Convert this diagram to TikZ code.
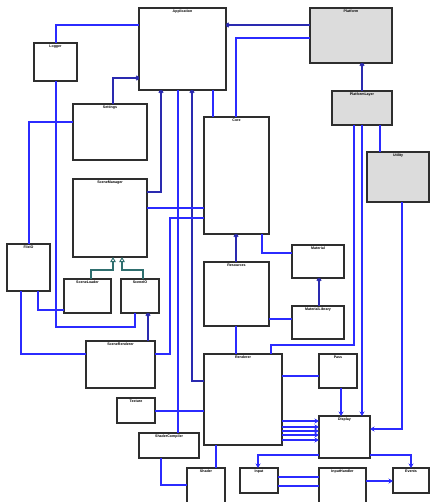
\documentclass[tikz,border=0pt]{standalone}
\usepackage{fontspec}
\setmainfont{Liberation Sans}
\usetikzlibrary{arrows.meta,calc}
\definecolor{lnblue}{HTML}{2B2BFF}
\definecolor{lndark}{HTML}{2A2AB0}
\definecolor{lnteal}{HTML}{2F6F6F}
\definecolor{boxgray}{HTML}{DCDCDC}
\definecolor{boxline}{HTML}{2E2E2E}
\tikzset{
  box/.style={draw=boxline,line width=1.3pt,fill=white,anchor=north west,inner sep=0pt,outer sep=0pt},
  gbox/.style={box,fill=boxgray},
  ttl/.style={font=\fontsize{3.6}{3.6}\selectfont\bfseries,inner sep=1.8pt},
  wire/.style={draw=lnblue,line width=1.2pt},
  dwire/.style={draw=lndark,line width=1.2pt},
  usesend/.style={dwire,-{Arc Barb[length=3pt,width=5pt,line width=1.1pt]}},
  flow/.style={wire,-{Stealth[length=4.5pt,width=5pt]}},
  gen/.style={draw=lnteal,line width=1.1pt,-{Triangle[open,length=5pt,width=5.5pt,fill=white,line width=0.9pt]}}
}
\newcommand\mkbox[7][box]{\node[#1,minimum width=#4pt,minimum height=#5pt,label={[ttl,anchor=north]north:#7}] (#6) at (#2,#3) {};}
\begin{document}
\begin{tikzpicture}[x=1pt,y=-1pt]
\useasboundingbox (0,0) rectangle (430,502);
\clip (0,0) rectangle (430,502);
\fill[white] (0,0) rectangle (430,502);
% boxes
\mkbox{139}{8}{87}{82}{A}{Application}
\mkbox{34}{43}{43}{38}{B}{Logger}
\mkbox{73}{104}{74}{56}{C}{Settings}
\mkbox{204}{117}{65}{117}{D}{Core}
\mkbox[gbox]{310}{8}{82}{55}{E}{Platform}
\mkbox[gbox]{332}{91}{60}{34}{F}{PlatformLayer}
\mkbox[gbox]{367}{152}{62}{50}{G}{Utility}
\mkbox{73}{179}{74}{78}{H}{SceneManager}
\mkbox{7}{244}{43}{47}{I}{FileIO}
\mkbox{64}{279}{47}{34}{J}{SceneLoader}
\mkbox{121}{279}{38}{34}{K}{SceneIO}
\mkbox{204}{262}{65}{64}{L}{Resources}
\mkbox{292}{245}{52}{33}{M}{Material}
\mkbox{292}{306}{52}{33}{N}{MaterialLibrary}
\mkbox{86}{341}{69}{47}{O}{SceneRenderer}
\mkbox{117}{398}{38}{25}{P}{Texture}
\mkbox{139}{433}{60}{25}{Q}{ShaderCompiler}
\mkbox{187}{468}{38}{40}{R}{Shader}
\mkbox{204}{354}{78}{91}{S}{Renderer}
\mkbox{319}{354}{38}{34}{T}{Pass}
\mkbox{319}{416}{51}{42}{U}{Display}
\mkbox{240}{468}{38}{25}{V}{Input}
\mkbox{319}{468}{47}{40}{W}{InputHandler}
\mkbox{393}{468}{36}{25}{X}{Events}
% connectors
\draw[wire] ([shift={(22,0)}]B.north west) |- ([shift={(0,17)}]A.north west);
\draw[wire] ([shift={(22,38)}]B.north west) -- ++(0,246) -| ([shift={(14,34)}]K.north west);
\draw[usesend] ([shift={(40,0)}]C.north west) |- ([shift={(0,70)}]A.north west);
\draw[wire] ([shift={(0,18)}]C.north west) -| ([shift={(22,0)}]I.north west);
\draw[usesend] ([shift={(74,13)}]H.north west) -| ([shift={(22,82)}]A.north west);
\draw[wire] ([shift={(39,82)}]A.north west) -- ([shift={(39,0)}]Q.north west);
\draw[usesend] ([shift={(0,27)}]S.north west) -| ([shift={(53,82)}]A.north west);
\draw[wire] ([shift={(74,82)}]A.north west) -- ([shift={(9,0)}]D.north west);
\draw[wire] ([shift={(74,29)}]H.north west) -- ([shift={(0,91)}]D.north west);
\draw[wire] ([shift={(69,13)}]O.north west) -- ++(15,0) |- ([shift={(0,101)}]D.north west);
\draw[usesend] ([shift={(62,0)}]O.north west) -- ([shift={(27,34)}]K.north west);
\draw[wire] ([shift={(14,47)}]I.north west) |- ([shift={(0,13)}]O.north west);
\draw[wire] ([shift={(31,47)}]I.north west) |- ([shift={(0,31)}]J.north west);
\draw[gen] ([shift={(27,0)}]J.north west) -- ++(0,-9) -| ([shift={(40,78)}]H.north west);
\draw[gen] ([shift={(22,0)}]K.north west) -- ++(0,-9) -| ([shift={(49,78)}]H.north west);
\draw[usesend] ([shift={(0,17)}]E.north west) -- ([shift={(87,17)}]A.north west);
\draw[wire] ([shift={(0,30)}]E.north west) -| ([shift={(32,0)}]D.north west);
\draw[usesend] ([shift={(30,0)}]F.north west) -- ([shift={(52,55)}]E.north west);
\draw[wire] ([shift={(48,34)}]F.north west) -- ([shift={(13,0)}]G.north west);
\draw[wire] ([shift={(22,34)}]F.north west) -- ++(0,220) -| ([shift={(67,0)}]S.north west);
\draw[flow] ([shift={(30,34)}]F.north west) -- ([shift={(43,0)}]U.north west);
\draw[flow] ([shift={(35,50)}]G.north west) |- ([shift={(51,13)}]U.north west);
\draw[usesend] ([shift={(32,0)}]L.north west) -- ([shift={(32,117)}]D.north west);
\draw[wire] ([shift={(58,117)}]D.north west) |- ([shift={(0,8)}]M.north west);
\draw[usesend] ([shift={(27,0)}]N.north west) -- ([shift={(27,33)}]M.north west);
\draw[wire] ([shift={(65,57)}]L.north west) -- ([shift={(0,13)}]N.north west);
\draw[wire] ([shift={(32,64)}]L.north west) -- ([shift={(32,0)}]S.north west);
\draw[wire] ([shift={(78,22)}]S.north west) -- ([shift={(0,22)}]T.north west);
\draw[flow] ([shift={(22,34)}]T.north west) -- ([shift={(22,0)}]U.north west);
\foreach \a/\b in {67/5,73/11,77/15,81/19,86/24}
  \draw[flow] ([shift={(78,\a)}]S.north west) -- ([shift={(0,\b)}]U.north west);
\draw[flow] ([shift={(0,39)}]U.north west) -| ([shift={(18,0)}]V.north west);
\draw[flow] ([shift={(51,39)}]U.north west) -| ([shift={(18,0)}]X.north west);
\draw[wire] ([shift={(38,9)}]V.north west) -- ([shift={(0,9)}]W.north west);
\draw[wire] ([shift={(38,18)}]V.north west) -- ([shift={(0,18)}]W.north west);
\draw[flow] ([shift={(47,13)}]W.north west) -- ([shift={(0,13)}]X.north west);
\draw[wire] ([shift={(22,25)}]Q.north west) |- ([shift={(0,17)}]R.north west);
\draw[wire] ([shift={(12,91)}]S.north west) -- ([shift={(29,0)}]R.north west);
\draw[wire] ([shift={(38,13)}]P.north west) -- ([shift={(0,57)}]S.north west);
\end{tikzpicture}
\end{document}
